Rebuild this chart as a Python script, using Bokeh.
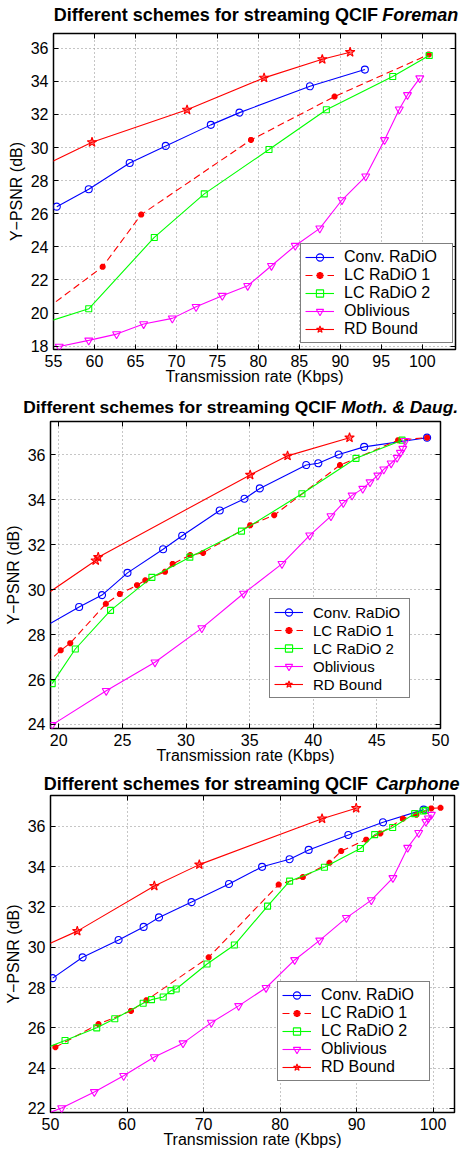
from bokeh.plotting import figure
from bokeh.layouts import column
from bokeh.models import Label, Legend, LegendItem, FixedTicker, LinearAxis, Range1d
from bokeh.embed import file_html
from bokeh.resources import INLINE

# ---------------- data: Foreman ----------------
fm_conv_x = [55.4, 59.3, 64.3, 68.7, 74.2, 77.7, 86.3, 93.0]
fm_conv_y = [26.43, 27.48, 29.07, 30.10, 31.37, 32.11, 33.70, 34.71]
fm_lc1_x = [51.0, 61.0, 65.7, 79.1, 89.3, 100.8]
fm_lc1_y = [19.1, 22.8, 25.95, 30.46, 33.08, 35.62]
fm_lc2_x = [50.0, 59.3, 67.3, 73.4, 81.3, 88.3, 96.4, 100.85]
fm_lc2_y = [18.8, 20.26, 24.57, 27.2, 29.88, 32.28, 34.29, 35.56]
fm_obl_x = [55.7, 59.3, 62.7, 66.0, 69.5, 72.4, 75.6, 78.7, 81.6, 84.5, 87.5, 90.2, 93.1, 95.4, 97.2, 98.2, 99.7]
fm_obl_y = [17.98, 18.35, 18.73, 19.34, 19.68, 20.38, 21.05, 21.65, 22.86, 24.07, 25.12, 26.83, 28.26, 30.46, 32.31, 33.18, 34.19]
fm_rd_x = [50.0, 59.7, 71.3, 80.7, 87.8, 91.2]
fm_rd_y = [28.0, 30.32, 32.28, 34.21, 35.33, 35.76]

# ---------------- data: Mother & Daughter ----------------
md_conv_x = [17.5, 21.6, 23.4, 25.4, 28.2, 29.7, 32.65, 34.6, 35.8, 39.45, 40.4, 42.0, 44.0, 48.95]
md_conv_y = [27.9, 29.23, 29.76, 30.75, 31.8, 32.4, 33.53, 34.05, 34.51, 35.55, 35.63, 36.02, 36.36, 36.77]
md_lc1_x = [19.0, 20.15, 20.9, 23.7, 24.8, 26.15, 26.8, 28.35, 28.95, 30.33, 31.34, 35.04, 36.93, 42.1, 46.67, 48.95]
md_lc1_y = [26.7, 27.3, 27.62, 29.37, 29.81, 30.2, 30.42, 30.8, 31.15, 31.54, 31.64, 32.87, 33.32, 35.55, 36.66, 36.77]
md_lc2_x = [19.48, 21.3, 24.07, 27.32, 30.3, 34.36, 39.11, 43.36, 46.98]
md_lc2_y = [25.82, 27.36, 29.08, 30.55, 31.45, 32.61, 34.27, 35.85, 36.66]
md_obl_x = [19.48, 23.73, 27.56, 31.24, 34.52, 37.54, 39.72, 41.39, 42.36, 43.05, 43.89, 44.46, 45.07, 45.54, 46.12, 46.59, 46.85, 47.04, 47.24]
md_obl_y = [23.98, 25.5, 26.77, 28.29, 29.83, 31.15, 32.42, 33.28, 33.87, 34.2, 34.5, 34.79, 35.09, 35.36, 35.63, 35.88, 36.1, 36.28, 36.63]
md_rd_x = [18.0, 22.9, 23.1, 35.04, 37.98, 42.85]
md_rd_y = [29.4, 31.3, 31.45, 35.11, 35.96, 36.77]

# ---------------- data: Carphone ----------------
cp_conv_x = [50.29, 54.2, 58.9, 62.17, 64.18, 68.44, 73.33, 77.65, 81.25, 83.74, 88.93, 93.46, 98.77]
cp_conv_y = [28.47, 29.5, 30.36, 31.01, 31.48, 32.24, 33.14, 33.99, 34.37, 34.83, 35.57, 36.2, 36.83]
cp_lc1_x = [50.64, 56.27, 60.52, 62.54, 70.67, 79.82, 82.98, 86.46, 87.99, 91.26, 93.11, 96.05, 97.82, 99.76, 100.97]
cp_lc1_y = [25.04, 26.19, 26.84, 27.37, 29.5, 33.11, 33.48, 34.19, 34.77, 35.34, 35.65, 36.38, 36.58, 36.89, 36.92]
cp_lc2_x = [48.0, 51.9, 56.04, 58.4, 62.11, 63.2, 64.73, 65.75, 66.43, 70.46, 74.03, 78.37, 81.25, 85.8, 90.5, 92.37, 94.72, 97.6, 98.7, 99.0]
cp_lc2_y = [24.8, 25.37, 26.0, 26.45, 27.22, 27.4, 27.53, 27.85, 27.93, 29.17, 30.11, 32.04, 33.28, 33.97, 34.9, 35.59, 35.94, 36.63, 36.76, 36.79]
cp_obl_x = [48.5, 51.46, 55.73, 59.56, 63.57, 67.32, 71.02, 74.59, 78.17, 81.91, 85.18, 88.67, 91.93, 94.75, 96.68, 98.12, 99.06, 99.38, 99.78]
cp_obl_y = [21.6, 22.02, 22.82, 23.62, 24.55, 25.24, 26.26, 27.09, 27.99, 29.37, 30.34, 31.46, 32.34, 33.44, 34.94, 35.68, 36.23, 36.4, 36.58]
cp_rd_x = [47.0, 53.5, 63.57, 69.45, 85.49, 89.95]
cp_rd_y = [29.7, 30.8, 33.04, 34.1, 36.38, 36.9]

legend_labels = ["Conv. RaDiO", "LC RaDiO 1", "LC RaDiO 2", "Oblivious", "RD Bound"]
title_text = "Different schemes for streaming QCIF"
x_label = "Transmission rate (Kbps)"
y_label = "Y\u2212PSNR (dB)"

fm_xticks = [55, 60, 65, 70, 75, 80, 85, 90, 95, 100]
fm_yticks = [18, 20, 22, 24, 26, 28, 30, 32, 34, 36]
md_xticks = [20, 25, 30, 35, 40, 45, 50]
md_yticks = [24, 26, 28, 30, 32, 34, 36]
cp_xticks = [50, 60, 70, 80, 90, 100]
cp_yticks = [22, 24, 26, 28, 30, 32, 34, 36]

FONT = "Liberation Sans"
W = 461
BLUE, RED, GREEN, MAGENTA = "#0000ff", "#ff0000", "#00ff00", "#ff00ff"
STYLES = [
    dict(color=BLUE, marker="circle", dash="solid", size=7, fill=None),
    dict(color=RED, marker="asterisk", dash="7 4", size=6, fill=None),
    dict(color=GREEN, marker="square", dash="solid", size=6, fill=None),
    dict(color=MAGENTA, marker="inverted_triangle", dash="solid", size=8, fill=None),
    dict(color=RED, marker="star", dash="solid", size=10, fill=RED),
]


def title_fig(video, H, bold_start, ital_start, y_mid, size):
    t = figure(width=W, height=H, x_range=Range1d(0, W), y_range=Range1d(0, H),
               output_backend="svg", toolbar_location=None, frame_align=False,
               x_axis_type=None, y_axis_type=None, min_border=0,
               min_border_left=0, min_border_right=0, min_border_top=0, min_border_bottom=0)
    t.outline_line_color = None
    t.background_fill_color = "white"
    t.border_fill_color = "white"
    t.xgrid.visible = False
    t.ygrid.visible = False
    t.add_layout(Label(x=bold_start, y=y_mid,
                       text=title_text, text_align="left", text_baseline="middle",
                       text_font=FONT, text_font_size=size, text_font_style="bold",
                       text_color="black"))
    t.add_layout(Label(x=ital_start, y=y_mid,
                       text=video, text_align="left", text_baseline="middle",
                       text_font=FONT, text_font_size=size, text_font_style="bold italic",
                       text_color="black"))
    return t


def panel(series, xr, yr, xticks, yticks, H, top, bottom, left, right,
          legend_xy, legend_font, legend_label_width):
    p = figure(width=W, height=H, x_range=Range1d(*xr), y_range=Range1d(*yr),
               output_backend="svg", toolbar_location=None, frame_align=False,
               min_border_left=left, min_border_right=right,
               min_border_top=top, min_border_bottom=bottom)
    p.background_fill_color = "white"
    p.border_fill_color = "white"
    p.outline_line_color = "black"
    p.outline_line_width = 1.5
    p.outline_line_alpha = 1.0

    for ax, ticks, lab in ((p.xaxis[0], xticks, x_label), (p.yaxis[0], yticks, y_label)):
        ax.ticker = FixedTicker(ticks=ticks)
        ax.axis_label = lab
        ax.major_tick_in = 5
        ax.major_tick_out = 0
        ax.minor_tick_in = 0
        ax.minor_tick_out = 0
        ax.axis_line_color = None
        ax.major_tick_line_color = "black"
        ax.major_label_text_font = FONT
        ax.major_label_text_font_size = "16px"
        ax.major_label_text_color = "black"
        ax.axis_label_text_font = FONT
        ax.axis_label_text_font_size = "16px"
        ax.axis_label_text_font_style = "normal"
        ax.axis_label_text_color = "black"
    p.xaxis[0].major_label_standoff = 5
    p.xaxis[0].axis_label_standoff = -2
    p.yaxis[0].major_label_standoff = 5
    p.yaxis[0].axis_label_standoff = 3

    for loc, ticks in (("above", xticks), ("right", yticks)):
        ax = LinearAxis(ticker=FixedTicker(ticks=ticks), major_tick_in=5, major_tick_out=0,
                        minor_tick_in=0, minor_tick_out=0, axis_line_color=None,
                        major_label_standoff=0, major_label_text_font_size="0px",
                        major_label_overrides={t: "" for t in ticks})
        p.add_layout(ax, loc)

    for g in (p.xgrid[0], p.ygrid[0]):
        g.grid_line_color = "#8c8c8c"
        g.grid_line_dash = "1 3"
        g.grid_line_width = 1

    items = []
    for (xs, ys), st, lab in zip(series, STYLES, legend_labels):
        lr = p.line(xs, ys, line_color=st["color"], line_width=1.1, line_dash=st["dash"])
        if st["marker"] == "asterisk":
            sr = p.scatter(xs, ys, marker="asterisk", size=st["size"], line_color=st["color"], line_width=2.2)
        else:
            sr = p.scatter(xs, ys, marker=st["marker"], size=st["size"], line_color=st["color"],
                           line_width=1.1, fill_color=st["fill"],
                           fill_alpha=0.5 if st["fill"] else 0)
        items.append(LegendItem(label=lab, renderers=[lr, sr]))

    leg = Legend(items=items, location=legend_xy, orientation="vertical")
    leg.label_text_font = FONT
    leg.label_text_font_size = legend_font
    leg.label_text_color = "black"
    leg.border_line_color = "black"
    leg.border_line_width = 1
    leg.background_fill_color = "white"
    leg.background_fill_alpha = 1.0
    leg.padding = 4
    leg.spacing = 0
    leg.margin = 0
    leg.glyph_width = 29
    leg.glyph_height = 18
    leg.label_height = 18
    leg.label_width = legend_label_width
    leg.label_standoff = 10
    p.add_layout(leg)
    return p


t1 = title_fig("Foreman", H=26, bold_start=53.3, ital_start=381.7, y_mid=12, size="18px")
p1 = panel([(fm_conv_x, fm_conv_y), (fm_lc1_x, fm_lc1_y), (fm_lc2_x, fm_lc2_y),
            (fm_obl_x, fm_obl_y), (fm_rd_x, fm_rd_y)],
           (55, 104.06), (17.8, 36.89), fm_xticks, fm_yticks,
           H=364, top=7, bottom=41, left=53, right=6,
           legend_xy=(247, 6), legend_font="16px", legend_label_width=104)
t2 = title_fig("Moth. & Daug.", H=26, bold_start=22.7, ital_start=340.7, y_mid=10, size="17.4px")
p2 = panel([(md_conv_x, md_conv_y), (md_lc1_x, md_lc1_y), (md_lc2_x, md_lc2_y),
            (md_obl_x, md_obl_y), (md_rd_x, md_rd_y)],
           (19.35, 50), (23.82, 37.49), md_xticks, md_yticks,
           H=352, top=5, bottom=40, left=50, right=21,
           legend_xy=(219, 30), legend_font="15px", legend_label_width=92)
t3 = title_fig("Carphone", H=26, bold_start=43.3, ital_start=375, y_mid=11, size="18px")
p3 = panel([(cp_conv_x, cp_conv_y), (cp_lc1_x, cp_lc1_y), (cp_lc2_x, cp_lc2_y),
            (cp_obl_x, cp_obl_y), (cp_rd_x, cp_rd_y)],
           (50, 102.8), (21.8, 37.53), cp_xticks, cp_yticks,
           H=356, top=1, bottom=37, left=50, right=7,
           legend_xy=(227, 31), legend_font="16px", legend_label_width=104)

layout = column(t1, p1, t2, p2, t3, p3, spacing=0)
open("out.html", "w").write(file_html(layout, INLINE))
